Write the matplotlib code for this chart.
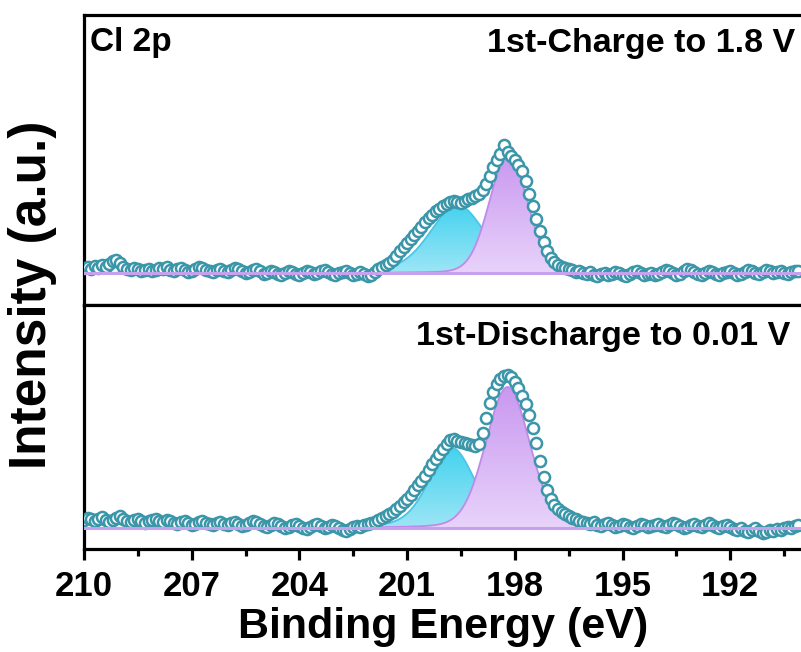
import numpy as np
import matplotlib
matplotlib.use("Agg")
import matplotlib.pyplot as plt
from matplotlib.colors import LinearSegmentedColormap
from matplotlib.patches import Polygon

plt.rcParams['font.family'] = ['Liberation Sans', 'DejaVu Sans']
plt.rcParams['font.weight'] = 'bold'

# binding energy grid (eV), 0.1 eV steps from 210.0 down to 190.1
be_start, be_step, n_pts = 210.0, 0.1, 200
energy = be_start - be_step * np.arange(n_pts)

# 1st charge to 1.8 V, measured counts (a.u.)
charge_counts = [
    37, 38, 36, 39, 37, 40, 38, 41, 44, 45, 42, 38, 36, 35, 37, 36, 34, 35, 36, 34,
    35, 37, 36, 38, 35, 34, 36, 37, 35, 33, 34, 36, 38, 37, 35, 34, 33, 35, 36, 34,
    33, 35, 37, 36, 34, 32, 33, 35, 36, 34, 31, 32, 34, 33, 31, 30, 32, 34, 33, 31,
    30, 32, 34, 33, 31, 32, 34, 35, 33, 31, 30, 32, 33, 34, 32, 30, 31, 33, 31, 29,
    30, 33, 36, 38, 40, 42, 45, 49, 54, 58, 62, 66, 70, 74, 78, 83, 87, 90, 94, 96,
    99, 101, 103, 104, 103, 102, 104, 106, 107, 109, 111, 115, 121, 129, 138, 145, 151, 160, 153, 149,
    145, 140, 134, 124, 111, 99, 86, 74, 63, 54, 47, 43, 40, 38, 37, 36, 35, 33, 34, 32,
    31, 33, 30, 29, 31, 32, 30, 31, 33, 32, 30, 29, 31, 33, 34, 32, 30, 31, 32, 30,
    31, 33, 35, 34, 32, 30, 31, 34, 36, 35, 33, 31, 30, 32, 34, 33, 31, 30, 32, 33,
    34, 32, 30, 31, 33, 35, 34, 32, 31, 33, 35, 34, 32, 33, 34, 32, 31, 33, 34, 34,
]

# 1st discharge to 0.01 V, measured counts (a.u.)
discharge_counts = [
    29, 31, 30, 28, 30, 32, 29, 27, 29, 31, 33, 30, 28, 27, 29, 30, 28, 26, 28, 29,
    30, 28, 27, 29, 28, 26, 25, 27, 28, 26, 24, 25, 27, 28, 26, 25, 24, 26, 27, 25,
    24, 26, 27, 25, 23, 24, 26, 28, 27, 25, 23, 22, 24, 26, 25, 23, 21, 22, 24, 25,
    23, 21, 20, 22, 24, 25, 23, 21, 22, 24, 23, 21, 19, 18, 20, 22, 23, 22, 24, 25,
    26, 27, 29, 31, 33, 35, 37, 40, 43, 47, 50, 54, 59, 64, 68, 73, 79, 85, 90, 95,
    100, 105, 109, 110, 108, 107, 106, 105, 104, 103, 105, 116, 131, 146, 157, 165, 170, 173, 174, 172,
    167, 161, 153, 145, 134, 121, 106, 88, 72, 59, 50, 44, 40, 37, 35, 33, 31, 30, 28, 27,
    26, 25, 27, 24, 23, 25, 26, 24, 22, 23, 25, 24, 22, 21, 23, 25, 24, 22, 23, 24,
    25, 23, 22, 24, 26, 25, 23, 21, 22, 24, 25, 23, 22, 24, 26, 24, 22, 21, 23, 24,
    22, 20, 19, 21, 18, 17, 19, 21, 18, 16, 17, 19, 18, 20, 19, 21, 22, 21, 23, 24,
]

# fitted components: (centre eV, height, FWHM eV, lorentzian fraction)
charge_baseline = 32
charge_peaks = [(199.6, 68, 1.8, 0.3), (198.18, 118, 1.25, 0.1)]
discharge_baseline = 21
discharge_peaks = [(199.75, 80, 1.5, 0.3), (198.2, 141, 1.45, 0.15)]

panel_titles = ['1st-Charge to 1.8 V', '1st-Discharge to 0.01 V']
title_pos = [(0.9916, 0.955), (0.985, 0.935)]
panel_ylims = [(0, 290), (0, 244)]

edge_teal = '#3a96a8'
cyan_top, cyan_bot, cyan_edge = '#45d2ef', '#9de6f6', '#4cc6e4'
lilac_top, lilac_bot, lilac_edge = '#c998f0', '#e8d3fa', '#c08be8'
base_line = '#c6a2ee'


def pseudo_voigt(x, centre, height, fwhm, eta):
    g = np.exp(-4 * np.log(2) * ((x - centre) / fwhm) ** 2)
    l = 1.0 / (1.0 + 4 * ((x - centre) / fwhm) ** 2)
    return height * ((1 - eta) * g + eta * l)


def gradient_fill(ax, x, base, y, top_c, bot_c, edge_c, z):
    verts = np.vstack([np.column_stack([x, y]),
                       np.column_stack([x[::-1], np.full_like(x, base)])])
    patch = Polygon(verts, closed=True, facecolor='none', edgecolor='none')
    ax.add_patch(patch)
    cmap = LinearSegmentedColormap.from_list('g', [bot_c, top_c])
    grad = np.linspace(0, 1, 256).reshape(-1, 1)
    im = ax.imshow(grad, cmap=cmap, aspect='auto', origin='lower',
                   extent=[x.min(), x.max(), base, y.max()], zorder=z,
                   interpolation='bilinear')
    im.set_clip_path(patch)
    ax.plot(x, y, color=edge_c, lw=1.3, zorder=z + 0.1)


fig = plt.figure(figsize=(8.01, 6.52), dpi=100)
ax_top = fig.add_axes([84 / 801, 347 / 652, 1 - 84 / 801, 290 / 652])
ax_bot = fig.add_axes([84 / 801, 103 / 652, 1 - 84 / 801, 244 / 652], sharex=ax_top)

fit_x = np.linspace(210, 190, 801)
datasets = [
    (ax_top, charge_counts, charge_baseline, charge_peaks),
    (ax_bot, discharge_counts, discharge_baseline, discharge_peaks),
]
for i, (ax, counts, base, peaks) in enumerate(datasets):
    cyan = base + pseudo_voigt(fit_x, *peaks[0])
    lilac = base + pseudo_voigt(fit_x, *peaks[1])
    gradient_fill(ax, fit_x, base, cyan, cyan_top, cyan_bot, cyan_edge, 1)
    gradient_fill(ax, fit_x, base, lilac, lilac_top, lilac_bot, lilac_edge, 2)
    ax.plot(energy, counts, 'o', ms=8, mfc='white', mec=edge_teal, mew=1.8, zorder=3)
    ax.axhline(base, color=base_line, lw=2.2, zorder=4)
    ax.set_ylim(*panel_ylims[i])
    ax.set_yticks([])
    ax.text(*title_pos[i], panel_titles[i], transform=ax.transAxes,
            ha='right', va='top', fontsize=24.5, fontweight='bold')
    for side in ['left', 'top', 'bottom']:
        ax.spines[side].set_linewidth(2.3)
    ax.spines['right'].set_visible(False)

ax_top.text(0.008, 0.96, 'Cl 2p', transform=ax_top.transAxes, ha='left', va='top',
            fontsize=24, fontweight='bold')

ax_bot.set_xlim(210, 190.03)
ax_bot.set_xticks([210, 207, 204, 201, 198, 195, 192])
ax_bot.set_xticks(np.arange(208.5, 190, -3), minor=True)
ax_bot.tick_params(axis='x', which='major', length=8, width=2.3, labelsize=25, pad=7)
ax_bot.tick_params(axis='x', which='minor', length=5, width=2.3)
ax_top.tick_params(axis='x', which='both', bottom=False, labelbottom=False)

fig.text(0.04, 0.548, 'Intensity (a.u.)', rotation=90, ha='center', va='center',
         fontsize=37, fontweight='bold')
fig.text(0.553, 0.022, 'Binding Energy (eV)', ha='center', va='baseline',
         fontsize=31, fontweight='bold')

fig.savefig('out.png', dpi=100)
